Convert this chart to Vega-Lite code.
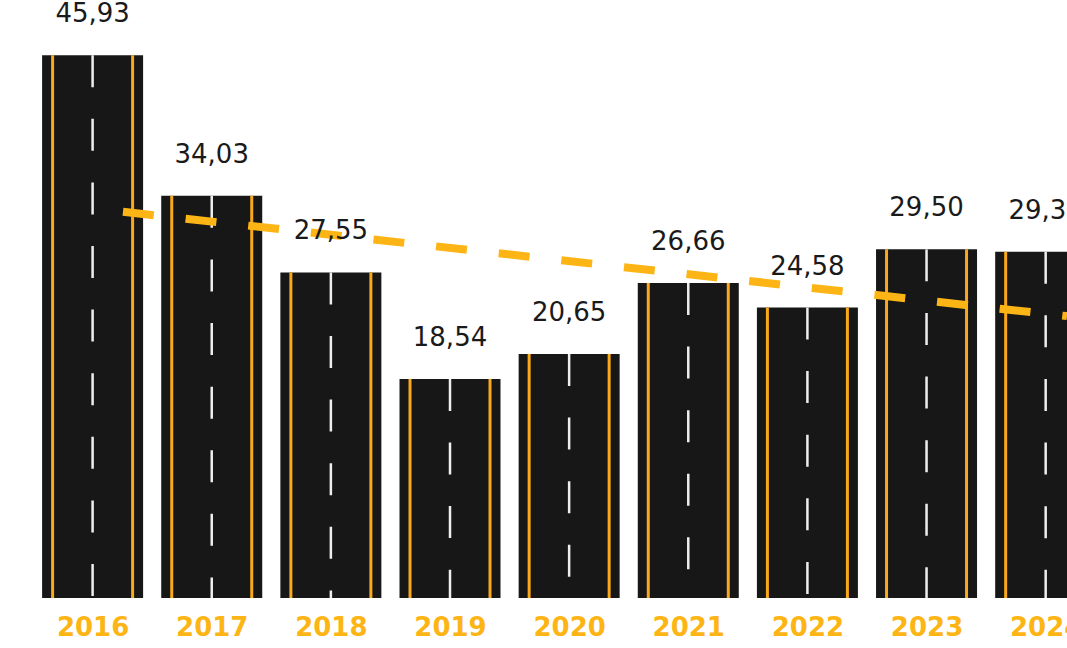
{
  "$schema": "https://vega.github.io/schema/vega-lite/v6.json",
  "width": 1067,
  "height": 598,
  "padding": {"left": 0, "top": 0, "right": 0, "bottom": 50},
  "autosize": {"type": "none"},
  "background": "#ffffff",
  "config": {
    "view": {"stroke": null},
    "locale": {"number": {"decimal": ",", "thousands": ".", "grouping": [3], "currency": ["", ""]}}
  },
  "datasets": {
    "bars": [
      {"year": 2016, "value": 45.93},
      {"year": 2017, "value": 34.03},
      {"year": 2018, "value": 27.55},
      {"year": 2019, "value": 18.54},
      {"year": 2020, "value": 20.65},
      {"year": 2021, "value": 26.66},
      {"year": 2022, "value": 24.58},
      {"year": 2023, "value": 29.50},
      {"year": 2024, "value": 29.30}
    ],
    "trend": [
      {"year": 2016.255, "value": 32.68},
      {"year": 2024.179, "value": 23.85}
    ]
  },
  "layer": [
    {
      "data": {"name": "bars"},
      "mark": {"type": "bar", "size": 101, "color": "#171717"},
      "encoding": {
        "x": {
          "field": "year", "type": "quantitative",
          "scale": {"domain": [2015.2227, 2024.179], "nice": false, "zero": false, "padding": 0},
          "axis": {
            "values": [2016, 2017, 2018, 2019, 2020, 2021, 2022, 2023, 2024],
            "format": "d", "title": null, "domain": false, "ticks": false, "grid": false,
            "labelFlush": false, "labelOverlap": false, "labelBound": false,
            "labelFont": "DejaVu Sans", "labelFontWeight": "bold", "labelFontSize": 26,
            "labelColor": "#FDB515", "labelPadding": 16
          }
        },
        "y": {
          "field": "value", "type": "quantitative",
          "scale": {"domain": [0, 50.6], "nice": false},
          "axis": null
        }
      }
    },
    {
      "data": {"name": "bars"},
      "mark": {"type": "rule", "color": "#F9A91B", "strokeWidth": 3, "xOffset": -40},
      "encoding": {
        "x": {"field": "year", "type": "quantitative"},
        "y": {"field": "value", "type": "quantitative"},
        "y2": {"datum": 0}
      }
    },
    {
      "data": {"name": "bars"},
      "mark": {"type": "rule", "color": "#F9A91B", "strokeWidth": 3, "xOffset": 40},
      "encoding": {
        "x": {"field": "year", "type": "quantitative"},
        "y": {"field": "value", "type": "quantitative"},
        "y2": {"datum": 0}
      }
    },
    {
      "data": {"name": "bars"},
      "mark": {"type": "rule", "color": "#EEEEEE", "strokeWidth": 2.5, "strokeDash": [32, 31.6]},
      "encoding": {
        "x": {"field": "year", "type": "quantitative"},
        "y": {"field": "value", "type": "quantitative"},
        "y2": {"datum": 0}
      }
    },
    {
      "data": {"name": "trend"},
      "mark": {"type": "line", "color": "#FDB515", "strokeWidth": 8, "strokeDash": [31, 32], "strokeCap": "butt", "clip": true},
      "encoding": {
        "x": {"field": "year", "type": "quantitative"},
        "y": {"field": "value", "type": "quantitative"}
      }
    },
    {
      "data": {"name": "bars"},
      "mark": {"type": "text", "font": "DejaVu Sans", "fontSize": 26, "color": "#1A1A1A", "baseline": "alphabetic", "dy": -33},
      "encoding": {
        "x": {"field": "year", "type": "quantitative"},
        "y": {"field": "value", "type": "quantitative"},
        "text": {"field": "value", "type": "quantitative", "format": ".2f"}
      }
    }
  ]
}
